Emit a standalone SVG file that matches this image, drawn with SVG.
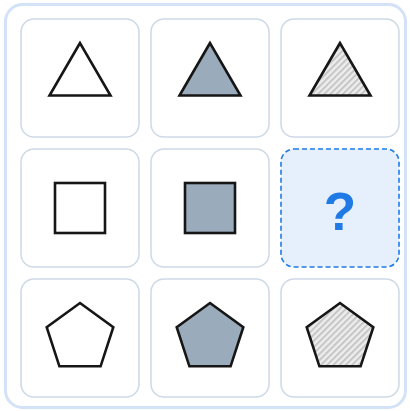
<svg xmlns="http://www.w3.org/2000/svg" width="410" height="411" viewBox="0 0 410 411">
  <style>
    .cell { fill: #ffffff; stroke: #cdd9e7; stroke-width: 1.5; }
    .shape { stroke: #161616; stroke-width: 2.6; stroke-linejoin: miter; }
    .empty { fill: #ffffff; }
    .solid { fill: #9aabbb; }
    .hatch { fill: url(#hatch); }
    .q { fill: #e6f0fc; stroke: #1f7ae6; stroke-width: 1.6; stroke-dasharray: 5 3; }
    .qtext { font-family: "Liberation Sans", Arial, sans-serif; font-weight: bold; font-size: 53px; fill: #1f7ae6; }
  </style>
  <defs>
    <pattern id="hatch" width="4.4" height="4.4" patternUnits="userSpaceOnUse" patternTransform="rotate(45)">
      <rect width="4.4" height="4.4" fill="#ededed"/>
      <rect width="2" height="4.4" fill="#c6c6c6"/>
    </pattern>
  </defs>
  <rect x="5.5" y="4.5" width="400" height="403" rx="17" fill="#ffffff" stroke="#d3e2f6" stroke-width="3"/>

  <g id="cell-1-1">
    <rect class="cell" x="21" y="19" width="118" height="118" rx="13"/>
    <polygon class="shape empty" points="80,43 49.5,95.5 110.5,95.5"/>
  </g>
  <g id="cell-1-2">
    <rect class="cell" x="151" y="19" width="118" height="118" rx="13"/>
    <polygon class="shape solid" points="210,43 179.5,95.5 240.5,95.5"/>
  </g>
  <g id="cell-1-3">
    <rect class="cell" x="281" y="19" width="118" height="118" rx="13"/>
    <polygon class="shape hatch" points="340,43 309.5,95.5 370.5,95.5"/>
  </g>

  <g id="cell-2-1">
    <rect class="cell" x="21" y="149" width="118" height="118" rx="13"/>
    <rect class="shape empty" x="55" y="183" width="50" height="50"/>
  </g>
  <g id="cell-2-2">
    <rect class="cell" x="151" y="149" width="118" height="118" rx="13"/>
    <rect class="shape solid" x="185" y="183" width="50" height="50"/>
  </g>
  <g id="cell-2-3">
    <rect class="q" x="281" y="149" width="118" height="118" rx="13"/>
    <text class="qtext" x="340" y="230" text-anchor="middle">?</text>
  </g>

  <g id="cell-3-1">
    <rect class="cell" x="21" y="279" width="118" height="118" rx="13"/>
    <polygon class="shape empty" points="80,303 113.3,327.2 100.6,366.3 59.4,366.3 46.7,327.2"/>
  </g>
  <g id="cell-3-2">
    <rect class="cell" x="151" y="279" width="118" height="118" rx="13"/>
    <polygon class="shape solid" points="210,303 243.3,327.2 230.6,366.3 189.4,366.3 176.7,327.2"/>
  </g>
  <g id="cell-3-3">
    <rect class="cell" x="281" y="279" width="118" height="118" rx="13"/>
    <polygon class="shape hatch" points="340,303 373.3,327.2 360.6,366.3 319.4,366.3 306.7,327.2"/>
  </g>

  <g id="connectors"></g>
</svg>
